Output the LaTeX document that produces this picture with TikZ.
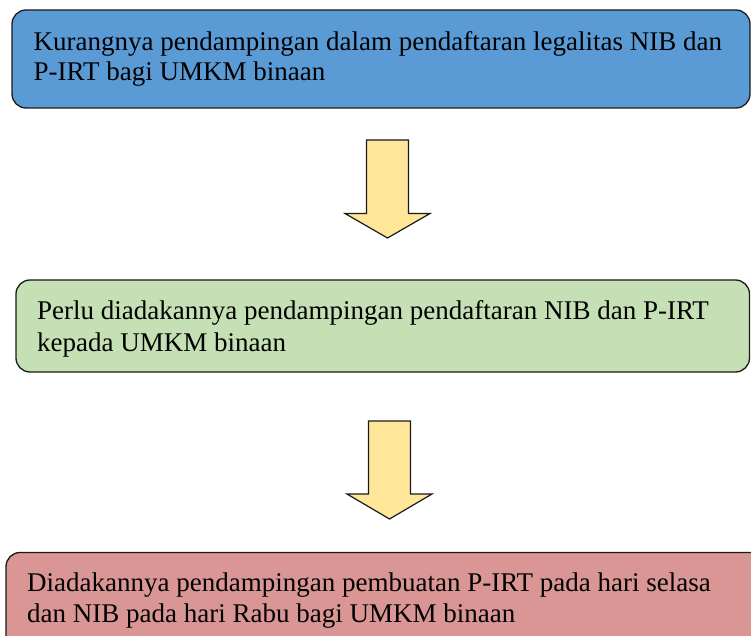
\documentclass[tikz,border=0pt]{standalone}
\usepackage{fontspec}
\setmainfont{Liberation Serif}
\definecolor{boxblue}{HTML}{5B9BD5}
\definecolor{boxgreen}{HTML}{C5E0B4}
\definecolor{boxred}{HTML}{D99694}
\definecolor{arrowyellow}{HTML}{FFE699}
\definecolor{edge}{HTML}{1A1A1A}
\tikzset{
  flowbox/.style={draw=edge, line width=1.3bp, rounded corners=14bp},
  linetext/.style={anchor=base west, inner sep=0pt, font=\fontsize{27bp}{31bp}\selectfont},
  blockarrow/.style={draw=edge, line width=1.2bp, fill=arrowyellow, line join=miter},
}
\begin{document}
\begin{tikzpicture}[x=1bp,y=-1bp]
\useasboundingbox (0,0) rectangle (751,636);
\clip (0,0) rectangle (751,636);
% boxes
\draw[flowbox, fill=boxblue] (12,10) rectangle (750,108);
\coordinate (b1) at (12,10);
\draw[flowbox, fill=boxgreen] (16,280) rectangle (749.5,372);
\coordinate (b2) at (16,280);
\draw[flowbox, fill=boxred] (6,552.5) rectangle (775,680);
\coordinate (b3) at (6,552.5);
% texts
\node[linetext] (t1a) at (33.5,50.5) {Kurangnya pendampingan dalam pendaftaran legalitas NIB dan};
\node[linetext] (t1b) at (33.5,81) {P-IRT bagi UMKM binaan};
\node[linetext] (t2a) at (37,319) {Perlu diadakannya pendampingan pendaftaran NIB dan P-IRT};
\node[linetext] (t2b) at (37,351) {kepada UMKM binaan};
\node[linetext] (t3a) at (27,591) {Diadakannya pendampingan pembuatan P-IRT pada hari selasa};
\node[linetext] (t3b) at (27,622) {dan NIB pada hari Rabu bagi UMKM binaan};
% block arrows
\coordinate (a1) at (387.5,140);
\draw[blockarrow] (a1) ++(-21,0) -- ++(42,0) -- ++(0,73.5) -- ++(21.5,0) -- ++(-42.5,24.5) -- ++(-42.5,-24.5) -- ++(21.5,0) -- cycle;
\coordinate (a2) at (389.5,421);
\draw[blockarrow] (a2) ++(-21,0) -- ++(42,0) -- ++(0,73) -- ++(21.5,0) -- ++(-42.5,25) -- ++(-42.5,-25) -- ++(21.5,0) -- cycle;
\end{tikzpicture}
\end{document}
